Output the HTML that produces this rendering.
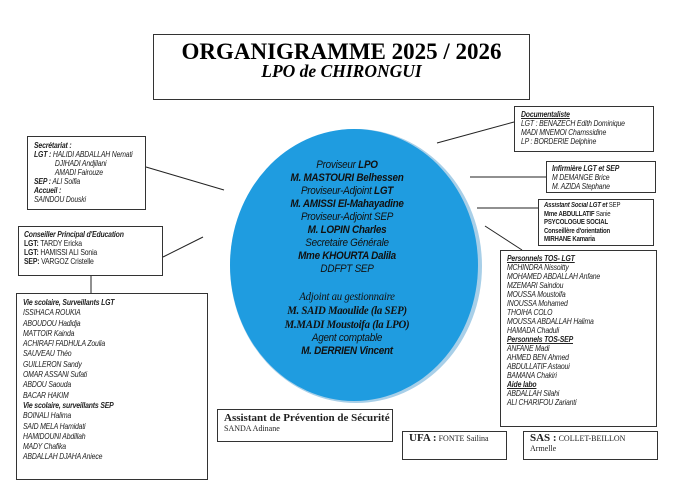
<!DOCTYPE html>
<html><head><meta charset="utf-8"><style>
body{margin:0;width:698px;height:497px;background:#fff;position:relative;overflow:hidden;font-family:"Liberation Sans",sans-serif;}
.b{position:absolute;border:1px solid #333;box-sizing:border-box;background:#fff;}
.t{position:absolute;font-size:8px;line-height:9px;font-style:italic;letter-spacing:-0.2px;color:#222;white-space:nowrap;transform:scaleX(0.86);transform-origin:0 0;}
.s{font-family:"Liberation Serif",serif;font-style:normal;letter-spacing:0;transform:none;}
b{font-weight:bold}
u{text-decoration:underline}
</style></head><body>
<svg width="698" height="497" style="position:absolute;left:0;top:0">
<ellipse cx="356" cy="266" rx="126" ry="137" fill="#a8cfe8"/>
<ellipse cx="354" cy="265" rx="124" ry="136" fill="#1f9ce0"/>
<g stroke="#222" stroke-width="1">
<line x1="146" y1="167" x2="224" y2="190"/>
<line x1="163" y1="257" x2="203" y2="237"/>
<line x1="91" y1="276" x2="91" y2="293"/>
<line x1="437" y1="143" x2="514" y2="122"/>
<line x1="470" y1="177" x2="546" y2="177"/>
<line x1="477" y1="208" x2="538" y2="208"/>
<line x1="485" y1="226" x2="522" y2="250"/>
</g>
</svg>
<div class="b" style="left:153px;top:34px;width:377px;height:66px"></div>
<div style="position:absolute;left:153px;width:377px;top:39px;text-align:center;font-family:'Liberation Serif',serif;font-weight:bold;font-size:23px;line-height:26px">ORGANIGRAMME 2025 / 2026</div>
<div style="position:absolute;left:153px;width:377px;top:62px;text-align:center;font-family:'Liberation Serif',serif;font-weight:bold;font-style:italic;font-size:17.5px;line-height:19px">LPO de CHIRONGUI</div>

<div style="position:absolute;left:197px;width:300px;top:159px;text-align:center;font-size:11px;line-height:13px;font-style:italic;color:#111;letter-spacing:-0.3px;transform:scaleX(0.9);transform-origin:150px 0">
Proviseur <b>LPO</b><br><b>M. MASTOURI Belhessen</b><br>Proviseur-Adjoint <b>LGT</b><br><b>M. AMISSI El-Mahayadine</b><br>Proviseur-Adjoint SEP<br><b>M. LOPIN Charles</b><br>Secretaire Générale<br><b>Mme KHOURTA Dalila</b><br>DDFPT SEP<br><div style="height:14px"></div>
<span style="font-family:'Liberation Serif',serif;font-size:12px">Adjoint au gestionnaire<br><b>M. SAID Maoulide (la SEP)<br>M.MADI Moustoifa (la LPO)</b></span><br>Agent comptable<br><b>M. DERRIEN Vincent</b></div>

<div class="b" style="left:27px;top:136px;width:119px;height:74px"></div>
<div class="t" style="left:34px;top:141px"><b>Secrétariat :</b><br><b>LGT :</b> HALIDI ABDALLAH Nemati<br>&nbsp;&nbsp;&nbsp;&nbsp;&nbsp;&nbsp;&nbsp;&nbsp;&nbsp;&nbsp;&nbsp;&nbsp;DJIHADI Andjilani<br>&nbsp;&nbsp;&nbsp;&nbsp;&nbsp;&nbsp;&nbsp;&nbsp;&nbsp;&nbsp;&nbsp;&nbsp;AMADI Fairouze<br><b>SEP :</b> ALI Soifia<br><b>Accueil :</b><br>SAINDOU Douski</div>

<div class="b" style="left:18px;top:226px;width:145px;height:50px"></div>
<div class="t" style="left:24px;top:230px"><b>Conseiller Principal d'Education</b><br><span style="font-style:normal"><b>LGT:</b> TARDY Ericka<br><b>LGT:</b> HAMISSI ALI Sonia<br><b>SEP:</b> VARGOZ Cristelle</span></div>

<div class="b" style="left:16px;top:293px;width:192px;height:187px"></div>
<div class="t" style="left:23px;top:298px;line-height:10.3px"><b>Vie scolaire, Surveillants LGT</b><br>ISSIHACA ROUKIA<br>ABOUDOU Hadidja<br>MATTOIR Kainda<br>ACHIRAFI FADHULA Zoulia<br>SAUVEAU Théo<br>GUILLERON Sandy<br>OMAR ASSANI Sufati<br>ABDOU Saouda<br>BACAR HAKIM<br><b>Vie scolaire, surveillants SEP</b><br>BOINALI Halima<br>SAID MELA Hamidati<br>HAMIDOUNI Abdillah<br>MADY Chafika<br>ABDALLAH DJAHA Aniece</div>

<div class="b" style="left:514px;top:106px;width:140px;height:46px"></div>
<div class="t" style="left:521px;top:110px"><b><u>Documentaliste</u></b><br>LGT : BENAZECH Edith Dominique<br>MADI MNEMOI Chamssidine<br>LP : BORDERIE Delphine</div>

<div class="b" style="left:546px;top:161px;width:110px;height:32px"></div>
<div class="t" style="left:552px;top:164px"><b>Infirmière LGT et SEP</b><br>M DEMANGE Brice<br>M. AZIDA Stephane</div>

<div class="b" style="left:538px;top:199px;width:116px;height:47px"></div>
<div class="t" style="left:544px;top:202px;font-size:7px;line-height:8.5px;font-style:normal"><b><i>Assistant Social LGT et</i></b> SEP<br><b>Mme ABDULLATIF</b> Sanie<br><b>PSYCOLOGUE SOCIAL</b><br><b>Conseillère d'orientation</b><br><b>MIRHANE Kamaria</b></div>

<div class="b" style="left:500px;top:250px;width:157px;height:177px"></div>
<div class="t" style="left:507px;top:254px"><b><u>Personnels TOS- LGT</u></b><br>MCHINDRA Nissoitty<br>MOHAMED ABDALLAH Anfane<br>MZEMARI Saindou<br>MOUSSA Moustoifa<br>INOUSSA Mohamed<br>THOIHA COLO<br>MOUSSA ABDALLAH Halima<br>HAMADA Chaduli<br><b><u>Personnels TOS-SEP</u></b><br>ANFANE Madi<br>AHMED BEN Ahmed<br>ABDULLATIF Astaoui<br>BAMANA Chakiri<br><b><u>Aide labo</u></b><br>ABDALLAH Silahi<br>ALI CHARIFOU Zarianti</div>

<div class="b" style="left:217px;top:409px;width:176px;height:33px"></div>
<div class="t s" style="left:224px;top:412px;font-size:11px;line-height:12px"><b>Assistant de Prévention de Sécurité</b></div>
<div class="t s" style="left:224px;top:424px;font-size:8px">SANDA Adinane</div>

<div class="b" style="left:402px;top:431px;width:105px;height:29px"></div>
<div class="t s" style="left:409px;top:434px;font-size:8px"><b style="font-size:11px">UFA :</b> FONTE Sailina</div>

<div class="b" style="left:523px;top:431px;width:135px;height:29px"></div>
<div class="t s" style="left:530px;top:433px;font-size:8px;line-height:10px"><b style="font-size:11px">SAS :</b> COLLET-BEILLON<br>Armelle</div>
</body></html>
